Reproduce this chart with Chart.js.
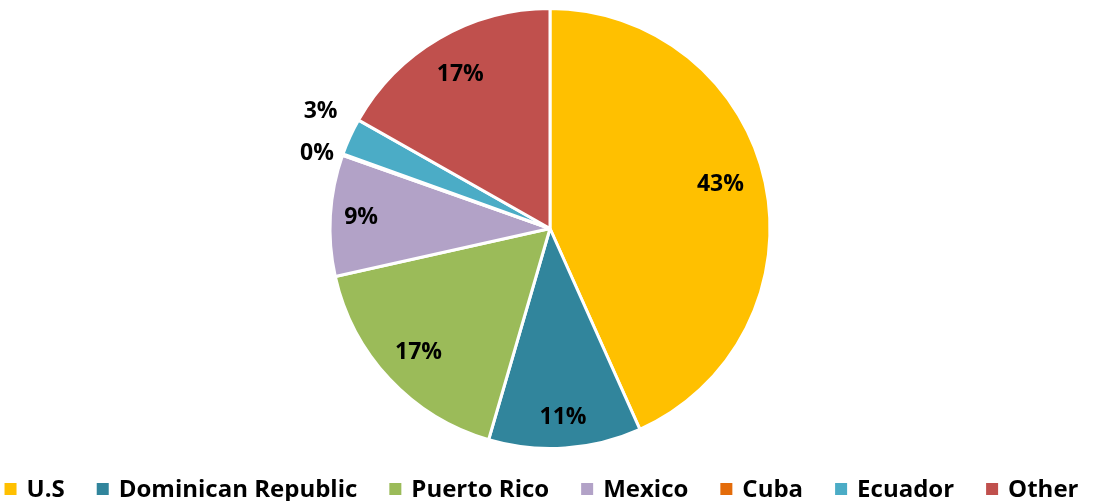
<!DOCTYPE html>
<html>
<head>
<meta charset="utf-8">
<script src="https://cdn.jsdelivr.net/npm/chart.js@4.4.1/dist/chart.umd.min.js"></script>
<style>
  html, body { margin: 0; padding: 0; background: #ffffff; }
  #wrap { width: 1120px; height: 501px; position: relative; }
</style>
</head>
<body>
<div id="wrap"><canvas id="c" width="1120" height="501"></canvas></div>
<script>
const categories = ["U.S", "Dominican Republic", "Puerto Rico", "Mexico", "Cuba", "Ecuador", "Other"];
const shares = [43.3, 11.2, 17.0, 8.9, 0.1, 2.7, 16.8];
const percentLabels = ["43%", "11%", "17%", "9%", "0%", "3%", "17%"];
const colors = ["#FFC000", "#31859C", "#9BBB59", "#B2A2C7", "#E46C0A", "#4BACC6", "#C0504D"];
// label placement: radius factor (relative to outer radius) and angular nudge in degrees
const labelRadius = [0.80, 0.86, 0.82, 0.86, 1.113, 1.17, 0.81];
const labelAngleShift = [-2.4, 0, 0, 0, -1.7, 2.3, 0];

const FONT = "'Open Sans', Lato, 'DejaVu Sans', sans-serif";

const pieLabels = {
  id: 'pieLabels',
  afterDatasetsDraw(chart) {
    const ctx = chart.ctx;
    const meta = chart.getDatasetMeta(0);
    ctx.save();
    ctx.font = "bold 23px " + FONT;
    ctx.fillStyle = "#000000";
    ctx.textAlign = "center";
    ctx.textBaseline = "middle";
    meta.data.forEach((arc, i) => {
      const p = arc.getProps(['x', 'y', 'startAngle', 'endAngle', 'outerRadius'], true);
      const mid = (p.startAngle + p.endAngle) / 2 + labelAngleShift[i] * Math.PI / 180;
      const r = p.outerRadius * labelRadius[i];
      ctx.fillText(percentLabels[i], p.x + Math.cos(mid) * r, p.y + Math.sin(mid) * r);
    });
    ctx.restore();
  }
};

const bottomLegend = {
  id: 'bottomLegend',
  afterDraw(chart) {
    const ctx = chart.ctx;
    const labels = chart.data.labels;
    const bg = chart.data.datasets[0].backgroundColor;
    const box = 12, gapBox = 10, gapItem = 32, y = 489;
    ctx.save();
    ctx.font = "bold 24px " + FONT;
    ctx.textBaseline = "middle";
    ctx.textAlign = "left";
    const widths = labels.map(l => ctx.measureText(l).width);
    let total = 0;
    widths.forEach((w, i) => { total += box + gapBox + w + (i < widths.length - 1 ? gapItem : 0); });
    let x = 541.5 - total / 2;
    labels.forEach((l, i) => {
      ctx.fillStyle = bg[i];
      ctx.fillRect(x, y - box / 2, box, box);
      x += box + gapBox;
      ctx.fillStyle = "#000000";
      ctx.fillText(l, x, y + 1);
      x += widths[i] + gapItem;
    });
    ctx.restore();
  }
};

new Chart(document.getElementById('c'), {
  type: 'pie',
  data: {
    labels: categories,
    datasets: [{
      data: shares,
      backgroundColor: colors,
      borderColor: '#ffffff',
      borderWidth: 3
    }]
  },
  options: {
    responsive: false,
    animation: false,
    layout: { padding: { top: 7, right: 20, left: 0, bottom: 51 } },
    plugins: {
      tooltip: { enabled: false },
      legend: { display: false }
    }
  },
  plugins: [pieLabels, bottomLegend]
});
</script>
</body>
</html>
